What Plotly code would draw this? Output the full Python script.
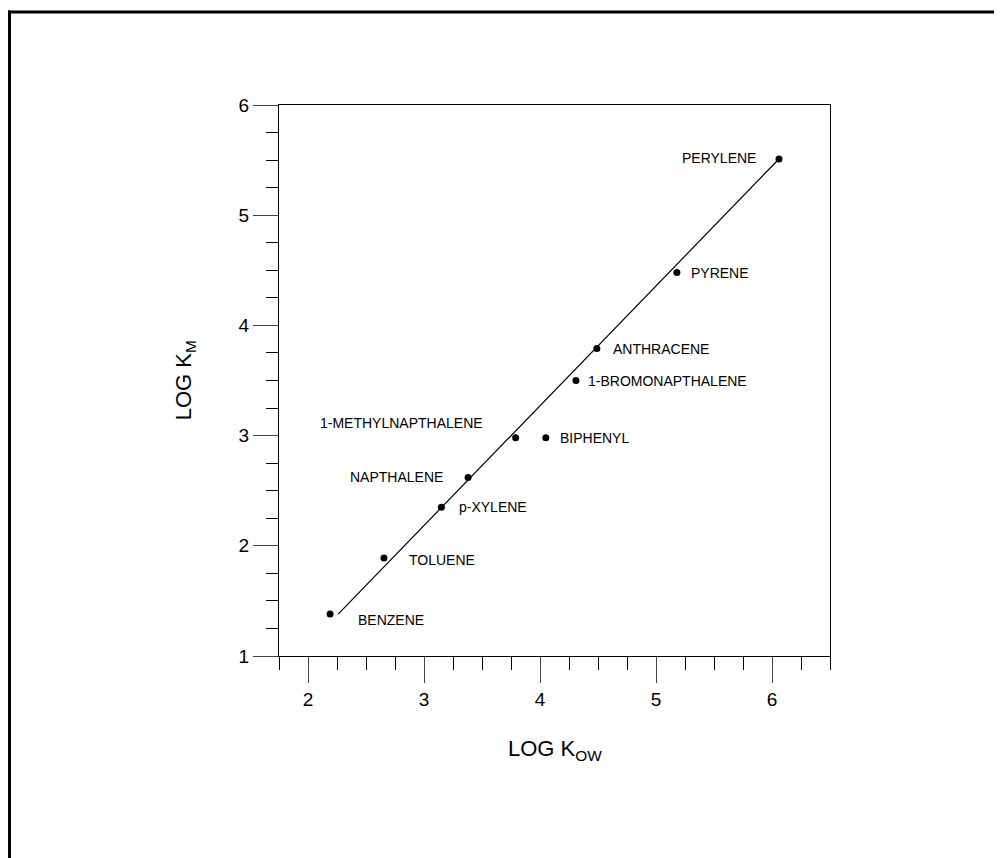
import plotly.graph_objects as go

# Data
compounds = ["BENZENE", "TOLUENE", "p-XYLENE", "NAPTHALENE", "1-METHYLNAPTHALENE",
             "BIPHENYL", "1-BROMONAPTHALENE", "ANTHRACENE", "PYRENE", "PERYLENE"]
log_kow = [2.19, 2.655, 3.15, 3.38, 3.79, 4.05, 4.31, 4.49, 5.18, 6.06]
log_km = [1.38, 1.89, 2.35, 2.62, 2.98, 2.98, 3.50, 3.79, 4.48, 5.51]

fit_x_range = [2.26, 6.06]
fit_slope = 1.087
fit_intercept = -1.077

x_ticks = [2, 3, 4, 5, 6]
y_ticks = [1, 2, 3, 4, 5, 6]

# label placement (pixel offsets relative to the point)
label_style = {
    "BENZENE": ("left", 26, -6),
    "TOLUENE": ("left", 23, -2),
    "p-XYLENE": ("left", 16, 0),
    "NAPTHALENE": ("right", -23, 0),
    "1-METHYLNAPTHALENE": ("right", -31, 15),
    "BIPHENYL": ("left", 12, 0),
    "1-BROMONAPTHALENE": ("left", 10, 0),
    "ANTHRACENE": ("left", 14, 0),
    "PYRENE": ("left", 12, 0),
    "PERYLENE": ("right", -21, 1),
}

FONT = "Liberation Sans, Arial, sans-serif"

# plot area geometry (figure pixels)
L, T, W, H = 271, 97, 551, 551
FIG_W, FIG_H = 1002, 858

fit_y = [fit_intercept + fit_slope * v for v in fit_x_range]

fig = go.Figure()
fig.add_trace(go.Scatter(x=fit_x_range, y=fit_y, mode="lines",
                         line=dict(color="black", width=1.2), showlegend=False,
                         hoverinfo="skip"))
fig.add_trace(go.Scatter(x=log_kow, y=log_km, mode="markers", text=compounds,
                         marker=dict(color="black", size=7), showlegend=False))

for name, xv, yv in zip(compounds, log_kow, log_km):
    anchor, dx, dy = label_style[name]
    fig.add_annotation(x=xv, y=yv, text=name, showarrow=False, xanchor=anchor,
                       yanchor="middle", xshift=dx, yshift=dy,
                       font=dict(family=FONT, size=14, color="black"))

axis_common = dict(showline=True, linecolor="black", linewidth=1, mirror=True,
                   showgrid=False, zeroline=False, ticks="outside",
                   tickcolor="#444", tickwidth=1.2,
                   tickfont=dict(family=FONT, size=19, color="black"))

fig.update_xaxes(range=[1.75, 6.5], tickvals=x_ticks, ticklen=26,
                 minor=dict(dtick=0.25, tick0=1.75, ticklen=13, ticks="outside",
                            tickcolor="black", tickwidth=1, showgrid=False),
                 **axis_common)
fig.update_yaxes(range=[1, 6], tickvals=y_ticks, ticklen=25,
                 minor=dict(dtick=0.25, tick0=1, ticklen=12, ticks="outside",
                            tickcolor="black", tickwidth=1, showgrid=False),
                 **axis_common)

fig.add_annotation(xref="paper", yref="paper", x=0.5, y=-0.171, text="LOG K<sub>OW</sub>",
                   showarrow=False, xanchor="center", yanchor="middle",
                   font=dict(family=FONT, size=22, color="black"))
fig.add_annotation(xref="paper", yref="paper", x=-0.171, y=0.5, text="LOG K<sub>M</sub>",
                   showarrow=False, xanchor="center", yanchor="middle", textangle=-90,
                   font=dict(family=FONT, size=22, color="black"))


def px_x(p):
    return (p - L) / W


def px_y(p):
    return (T + H - p) / H


# outer frame (figure pixel coordinates converted to paper)
fig.add_shape(type="line", xref="paper", yref="paper", x0=px_x(0), x1=px_x(FIG_W + 10),
              y0=px_y(4), y1=px_y(4), line=dict(color="black", width=3))
fig.add_shape(type="line", xref="paper", yref="paper", x0=px_x(1.5), x1=px_x(1.5),
              y0=px_y(2.5), y1=px_y(FIG_H + 10), line=dict(color="black", width=3))

fig.update_layout(width=FIG_W, height=FIG_H,
                  margin=dict(l=L, r=FIG_W - L - W, t=T, b=FIG_H - T - H),
                  plot_bgcolor="white", paper_bgcolor="white",
                  font=dict(family=FONT, color="black"))

fig.write_html("out.html")
